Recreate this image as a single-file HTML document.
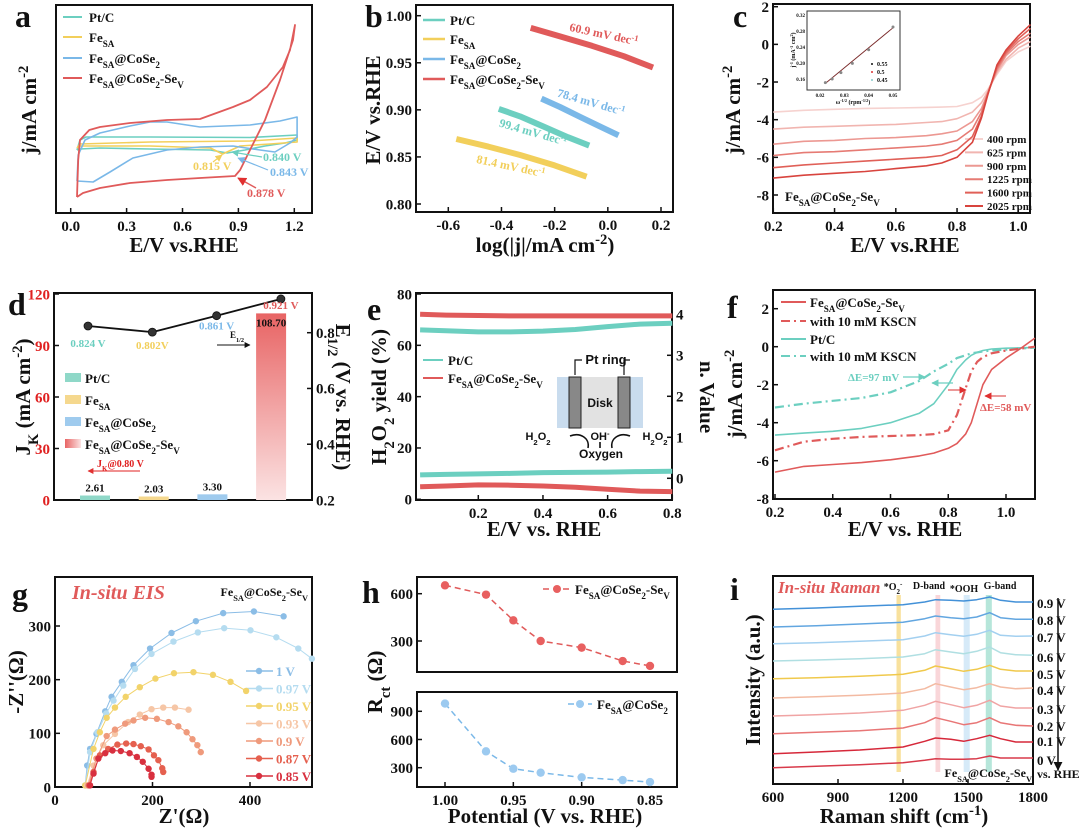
<!DOCTYPE html>
<html><head><meta charset="utf-8">
<style>
html,body{margin:0;padding:0;background:#fff;}
svg{display:block;}
text{font-family:"Liberation Serif",serif;font-weight:bold;}
.sb{font-size:70%;}
.sf{font-family:"Liberation Sans",sans-serif;}
</style></head>
<body>
<svg id="fig" xmlns="http://www.w3.org/2000/svg" width="1080" height="832" viewBox="0 0 1080 832">
<defs>
<marker id="ahk" viewBox="0 0 10 10" refX="9" refY="5" markerWidth="6" markerHeight="6" orient="auto"><path d="M0,0L10,5L0,10z" fill="#111"/></marker>
<marker id="ahr" viewBox="0 0 10 10" refX="9" refY="5" markerWidth="6" markerHeight="6" orient="auto"><path d="M0,0L10,5L0,10z" fill="#e03030"/></marker>
<marker id="aht" viewBox="0 0 10 10" refX="9" refY="5" markerWidth="6" markerHeight="6" orient="auto"><path d="M0,0L10,5L0,10z" fill="#6ccfc0"/></marker>
<marker id="ahb" viewBox="0 0 10 10" refX="9" refY="5" markerWidth="6" markerHeight="6" orient="auto"><path d="M0,0L10,5L0,10z" fill="#7ab8e8"/></marker>
<marker id="ahy" viewBox="0 0 10 10" refX="9" refY="5" markerWidth="6" markerHeight="6" orient="auto"><path d="M0,0L10,5L0,10z" fill="#f2cf5b"/></marker>
<linearGradient id="redgrad" x1="0" y1="0" x2="0" y2="1"><stop offset="0" stop-color="#e86464"/><stop offset="1" stop-color="#fbe3e3"/></linearGradient>
<linearGradient id="redgradh" x1="0" y1="0" x2="1" y2="0"><stop offset="0" stop-color="#e86464"/><stop offset="1" stop-color="#fbe3e3"/></linearGradient>
</defs>
</svg>
<script>
// ---------- panel a data ----------
const aRedV=[0.034,0.04,0.05,0.10,0.157,0.318,0.517,0.694,0.871,0.962,1.053,1.139,1.177,1.204,1.193,1.123,1.043,0.962,0.909,0.882,0.694,0.517,0.318,0.157,0.066,0.034];
const aRedJ=[-1.04,-0.3,0.1,0.3,0.36,0.44,0.5,0.52,0.76,0.9,1.16,1.56,1.9,2.4,2.1,1.3,0.5,-0.1,-0.5,-0.62,-0.66,-0.7,-0.76,-0.86,-0.96,-1.04];
const aBlueV=[0.034,0.120,0.211,0.334,0.517,0.694,0.871,1.016,1.096,1.177,1.215,1.215,1.123,0.962,0.694,0.517,0.426,0.318,0.157,0.077,0.040,0.034];
const aBlueJ=[-0.72,-0.74,-0.54,-0.26,-0.10,-0.04,-0.02,-0.10,-0.14,0.04,0.16,0.56,0.48,0.40,0.36,0.46,0.46,0.38,0.24,0.10,-0.20,-0.72];
const aTealV=[0.034,0.05,0.082,0.426,0.962,1.215,1.215,1.150,1.043,0.936,0.840,0.749,0.426,0.157,0.05,0.034];
const aTealJ=[-0.1,0.1,0.16,0.16,0.15,0.2,0.1,0.04,-0.02,-0.1,-0.16,-0.1,-0.08,-0.06,-0.08,-0.1];
const aYelV=[0.034,0.05,0.426,0.962,1.215,1.215,1.070,0.909,0.815,0.749,0.426,0.05,0.034];
const aYelJ=[-0.06,0.02,0.06,0.08,0.14,0.06,0.02,-0.02,-0.18,-0.06,-0.02,-0.02,-0.06];
const aXTicks=[0,0.3,0.6,0.9,1.2];
const aXLabels=["0.0","0.3","0.6","0.9","1.2"];
// ---------- panel b data ----------
const bRedX=[-0.29,-0.18,-0.06,0.06,0.17], bRedY=[0.987,0.978,0.968,0.957,0.945];
const bBlueX=[-0.25,-0.18,-0.1,-0.02,0.04], bBlueY=[0.912,0.903,0.892,0.881,0.873];
const bTealX=[-0.41,-0.33,-0.24,-0.15,-0.07], bTealY=[0.901,0.893,0.882,0.871,0.862];
const bYelX=[-0.57,-0.45,-0.33,-0.2,-0.08], bYelY=[0.869,0.861,0.852,0.841,0.829];
const bXTicks=[-0.6,-0.4,-0.2,0,0.2], bXLabels=["-0.6","-0.4","-0.2","0.0","0.2"];
const bYTicks=[0.8,0.85,0.9,0.95,1.0], bYLabels=["0.80","0.85","0.90","0.95","1.00"];
// ---------- panel c data ----------
const cE=[0.2,0.3,0.4,0.5,0.6,0.7,0.75,0.8,0.85,0.88,0.9,0.93,0.96,1.0,1.04];
const c400=[-3.6,-3.5,-3.45,-3.4,-3.38,-3.35,-3.33,-3.3,-3.1,-2.8,-2.4,-1.6,-0.9,-0.4,-0.1];
const c625=[-4.5,-4.4,-4.35,-4.3,-4.25,-4.15,-4.1,-3.95,-3.6,-3.1,-2.5,-1.5,-0.8,-0.2,0.15];
const c900=[-5.3,-5.15,-5.1,-5.0,-4.95,-4.85,-4.75,-4.6,-4.1,-3.4,-2.6,-1.4,-0.6,0.0,0.4];
const c1225=[-5.9,-5.75,-5.7,-5.6,-5.5,-5.4,-5.3,-5.1,-4.5,-3.6,-2.6,-1.3,-0.5,0.15,0.6];
const c1600=[-6.55,-6.4,-6.3,-6.2,-6.1,-6.0,-5.9,-5.6,-4.9,-3.8,-2.65,-1.2,-0.4,0.3,0.85];
const c2025=[-7.1,-6.95,-6.85,-6.75,-6.6,-6.45,-6.3,-6.0,-5.2,-3.9,-2.7,-1.1,-0.3,0.45,1.05];
const cRpm=["400 rpm","625 rpm","900 rpm","1225 rpm","1600 rpm","2025 rpm"];
const cXTicks=[0.2,0.4,0.6,0.8,1.0], cXLabels=["0.2","0.4","0.6","0.8","1.0"];
const cYTicks=[2,0,-2,-4,-6,-8], cYLabels=["2","0","-2","-4","-6","-8"];
const ciX=[0.0222,0.025,0.0286,0.0333,0.04,0.05];
const ciY=[0.151,0.160,0.176,0.199,0.233,0.290];
const ciXTicks=[0.02,0.03,0.04,0.05], ciXLabels=["0.02","0.03","0.04","0.05"];
const ciYTicks=[0.16,0.20,0.24,0.28,0.32], ciYLabels=["0.16","0.20","0.24","0.28","0.32"];
// ---------- panel d data ----------
const dCats=["Pt/C","FeSA","FeSA@CoSe2","FeSA@CoSe2-SeV"];
const dJk=[2.61,2.03,3.30,108.70];
const dJkLabels=["2.61","2.03","3.30","108.70"];
const dE12=[0.824,0.802,0.861,0.921];
const dE12Labels=["0.824 V","0.802V","0.861 V","0.921 V"];
const dLTicks=[0,30,60,90,120], dLLabels=["0","30","60","90","120"];
const dRTicks=[0.2,0.4,0.6,0.8], dRLabels=["0.2","0.4","0.6","0.8"];
// ---------- panel e data ----------
const eX=[0.02,0.1,0.2,0.3,0.4,0.5,0.6,0.7,0.8];
const eTealN=[3.62,3.60,3.57,3.57,3.59,3.63,3.70,3.76,3.78];
const eRedN=[4.0,3.98,3.97,3.96,3.96,3.96,3.96,3.96,3.96];
const eTealH=[9.5,9.7,9.9,10.1,10.4,10.5,10.6,10.8,10.9];
const eRedH=[4.9,5.2,5.6,5.5,5.2,4.7,3.9,3.2,3.0];
const eXTicks=[0.2,0.4,0.6,0.8], eXLabels=["0.2","0.4","0.6","0.8"];
const eLTicks=[0,20,40,60,80], eLLabels=["0","20","40","60","80"];
const eRTicks=[0,1,2,3,4], eRLabels=["0","1","2","3","4"];
// ---------- panel f data ----------
const fE=[0.2,0.3,0.4,0.5,0.6,0.7,0.75,0.8,0.83,0.86,0.88,0.9,0.92,0.95,1.0,1.05,1.1];
const fRed=[-6.6,-6.3,-6.2,-6.1,-5.95,-5.75,-5.6,-5.35,-5.1,-4.6,-4.0,-3.0,-2.0,-1.2,-0.6,-0.1,0.45];
const fRedK=[-5.45,-5.0,-4.85,-4.75,-4.7,-4.65,-4.6,-4.4,-3.6,-2.2,-1.3,-0.8,-0.55,-0.35,-0.2,-0.1,0.0];
const fTeal=[-4.65,-4.55,-4.45,-4.3,-4.0,-3.5,-3.0,-2.0,-1.2,-0.7,-0.45,-0.3,-0.2,-0.12,-0.08,-0.06,-0.05];
const fTealK=[-3.2,-3.0,-2.85,-2.7,-2.4,-1.8,-1.3,-0.9,-0.6,-0.45,-0.35,-0.3,-0.25,-0.2,-0.15,-0.1,-0.05];
const fXTicks=[0.2,0.4,0.6,0.8,1.0], fXLabels=["0.2","0.4","0.6","0.8","1.0"];
const fYTicks=[2,0,-2,-4,-6,-8], fYLabels=["2","0","-2","-4","-6","-8"];
// ---------- panel g data ----------
const g1X=[62,66,72,85,103,116,137,161,195,239,289,345,408,469];
const g1Y=[3,40,71,99,141,168,196,227,258,287,309,324,327,318];
const g097X=[62,72,87,105,120,140,164,198,243,293,347,401,454,499,527];
const g097Y=[3,65,102,137,161,189,220,248,271,288,296,292,279,258,239];
const g095X=[62,79,92,106,123,145,174,206,244,284,324,360,392];
const g095Y=[3,71,102,129,148,168,186,202,212,214,209,196,179];
const g093X=[66,79,99,123,150,174,198,222,246,274];
const g093Y=[3,40,78,99,121,135,145,148,148,144];
const g09X=[68,85,106,123,144,161,185,209,233,253,270,282,292,299];
const g09Y=[3,53,95,107,118,124,129,127,121,113,102,89,78,65];
const g087X=[70,79,92,109,128,146,161,176,192,203,212,220,222];
const g087Y=[3,28,59,71,79,81,80,76,70,59,50,35,28];
const g085X=[72,79,89,103,118,135,153,168,180,192,198,198];
const g085Y=[3,25,53,63,68,67,63,56,47,34,23,19];
const gNames=["1 V","0.97 V","0.95 V","0.93 V","0.9 V","0.87 V","0.85 V"];
const gXTicks=[0,200,400], gXLabels=["0","200","400"];
const gYTicks=[0,100,200,300], gYLabels=["0","100","200","300"];
// ---------- panel h data ----------
const hPot=[1.00,0.97,0.95,0.93,0.90,0.87,0.85];
const hRed=[653,594,431,300,258,173,142];
const hBlue=[982,474,289,247,197,168,147];
const hXTicks=[1.00,0.95,0.90,0.85], hXLabels=["1.00","0.95","0.90","0.85"];
const hTopTicks=[300,600], hTopLabels=["300","600"];
const hBotTicks=[300,600,900], hBotLabels=["300","600","900"];
// ---------- panel i data ----------
const iShift=[600,800,1000,1200,1300,1350,1420,1480,1540,1600,1650,1720,1800];
const i09=[528,532,537,542,550,557,555,553,557,565,555,550,550];
const i08=[475,479,484,489,500,508,503,500,505,518,503,498,498];
const i07=[425,428,432,437,448,458,452,447,453,465,450,447,448];
const i06=[373,376,380,385,395,407,400,395,402,415,398,392,390];
const i05=[320,323,327,333,345,358,350,342,348,360,348,343,343];
const i04=[262,266,270,277,290,305,295,287,293,305,295,290,292];
const i03=[208,212,217,225,240,252,242,233,240,255,238,232,232];
const i02=[155,159,164,172,188,203,192,182,188,203,188,180,178];
const i01=[95,100,106,115,132,142,138,132,140,150,140,130,130];
const i00=[53,57,62,68,75,80,78,78,80,88,82,82,82];
const iVolts=["0.9 V","0.8 V","0.7 V","0.6 V","0.5 V","0.4 V","0.3 V","0.2 V","0.1 V","0 V"];
const iXTicks=[600,900,1200,1500,1800], iXLabels=["600","900","1200","1500","1800"];

// ================= helpers =================
const NS="http://www.w3.org/2000/svg";
const svg=document.getElementById('fig');
function mk(tag,attrs,parent){const e=document.createElementNS(NS,tag);for(const k in attrs)e.setAttribute(k,attrs[k]);(parent||svg).appendChild(e);return e;}
function lin(d0,d1,r0,r1){return v=>r0+(v-d0)/(d1-d0)*(r1-r0);}
function txt(x,y,html,size,opts){opts=opts||{};const t=mk('text',{x:x,y:y,'font-size':size,'text-anchor':opts.anchor||'start',fill:opts.fill||'#111'});if(opts.rot!==undefined)t.setAttribute('transform','rotate('+opts.rot+' '+x+' '+y+')');if(opts.italic)t.setAttribute('font-style','italic');if(opts.cls)t.setAttribute('class',opts.cls);t.innerHTML=html;return t;}
function pathD(xs,ys,sx,sy){return xs.map((v,i)=>(i?'L':'M')+sx(v).toFixed(1)+','+sy(ys[i]).toFixed(1)).join('');}
function line(xs,ys,sx,sy,color,w,dash){const p=mk('path',{d:pathD(xs,ys,sx,sy),fill:'none',stroke:color,'stroke-width':w,'stroke-linejoin':'round'});if(dash)p.setAttribute('stroke-dasharray',dash);return p;}
function frame(x0,y0,x1,y1){const r=mk('rect',{x:x0,y:y0,width:x1-x0,height:y1-y0,fill:'none',stroke:'#111','stroke-width':2});return r;}
function xTicks(sc,vals,labs,y,size,len){vals.forEach((v,i)=>{const t=mk('line',{x1:sc(v),x2:sc(v),y1:y,y2:y-(len||5),stroke:'#111','stroke-width':1.5});const l=txt(sc(v),y+size+3,labs[i],size,{anchor:'middle'});});}
function yTicks(sc,vals,labs,x,size,right,fill,len){vals.forEach((v,i)=>{const d=right?-(len||5):(len||5);const t=mk('line',{x1:x,x2:x+d,y1:sc(v),y2:sc(v),stroke:'#111','stroke-width':1.5});const l=txt(right?x+4:x-4,sc(v)+size*0.35,labs[i],size,{anchor:right?'start':'end',fill:fill});});}
function dots(xs,ys,sx,sy,color,r,stroke){xs.forEach((v,i)=>{const c=mk('circle',{cx:sx(v),cy:sy(ys[i]),r:r,fill:color,stroke:stroke||'none','stroke-width':0.8});});}
const FE='Fe<tspan class="sb" baseline-shift="sub">SA</tspan>';
const FECO=FE+'@CoSe<tspan class="sb" baseline-shift="sub">2</tspan>';
const FECOV=FECO+'-Se<tspan class="sb" baseline-shift="sub">V</tspan>';
const TEAL='#6ccfc0',YEL='#f2cf5b',BLUE='#7ab8e8',RED='#e05a5a';
let t;

// ================= panel a =================
{const ax=lin(0,1.2,70.7,294.3), ay=j=>145-j*50;
frame(56,5,312,213);
xTicks(ax,aXTicks,aXLabels,213,15);
const s1=line(aTealV,aTealJ,ax,ay,TEAL,1.6);
const s2=line(aYelV,aYelJ,ax,ay,YEL,1.6);
const s3=line(aBlueV,aBlueJ,ax,ay,BLUE,1.6);
const s4=line(aRedV,aRedJ,ax,ay,RED,1.8);
const labs=["Pt/C",FE,FECO,FECOV], cols=[TEAL,YEL,BLUE,RED], ys=[17,37,58,78];
labs.forEach((l,i)=>{const ln=mk('line',{x1:63,x2:82,y1:ys[i],y2:ys[i],stroke:cols[i],'stroke-width':2});t=txt(89,ys[i]+5,l,13);});
t=txt(263,161,'0.840 V',12,{fill:TEAL});
t=txt(193,170,'0.815 V',12,{fill:YEL});
t=txt(270,176,'0.843 V',12,{fill:BLUE});
t=txt(247,197,'0.878 V',12,{fill:RED});
let a1=mk('line',{x1:262,y1:157,x2:232,y2:152,stroke:TEAL,'stroke-width':1.2,'marker-end':'url(#aht)'});
a1=mk('line',{x1:213,y1:162,x2:222,y2:155,stroke:YEL,'stroke-width':1.2,'marker-end':'url(#ahy)'});
a1=mk('line',{x1:268,y1:170,x2:238,y2:158,stroke:BLUE,'stroke-width':1.2,'marker-end':'url(#ahb)'});
a1=mk('line',{x1:256,y1:188,x2:238,y2:178,stroke:RED,'stroke-width':1.5,'marker-end':'url(#ahr)'});
t=txt(184,252,'E/V vs.RHE',21,{anchor:'middle'});
t=txt(36,110,'j/mA cm<tspan font-size="70%" baseline-shift="super">-2</tspan>',21,{anchor:'middle',rot:-90});
t=txt(15,27,'a',32);}

// ================= panel b =================
{const bx=lin(-0.6,0.2,448.3,661), by=lin(0.8,1.0,204,15.7);
frame(416,5,673,212);
xTicks(bx,bXTicks,bXLabels,212,15);
yTicks(by,bYTicks,bYLabels,416,15);
const sets=[[bRedX,bRedY,RED,'tafel-fesa-cose2-sev'],[bBlueX,bBlueY,BLUE,'tafel-fesa-cose2'],[bTealX,bTealY,TEAL,'tafel-ptc'],[bYelX,bYelY,YEL,'tafel-fesa']];
sets.forEach(s=>{const p=line(s[0],s[1],bx,by,s[2],6);});
const labs=["Pt/C",FE,FECO,FECOV], cols=[TEAL,YEL,BLUE,RED], ys=[20,39,59,79];
labs.forEach((l,i)=>{const ln=mk('line',{x1:423,x2:445,y1:ys[i],y2:ys[i],stroke:cols[i],'stroke-width':2.5});t=txt(450,ys[i]+5,l,13);});
const sup=' dec<tspan font-size="70%" baseline-shift="super">-1</tspan>';
t=txt(603,38,'60.9 mV'+sup,12,{anchor:'middle',fill:RED,rot:12});
t=txt(590,106,'78.4 mV'+sup,12,{anchor:'middle',fill:BLUE,rot:16});
t=txt(532,136,'99.4 mV'+sup,12,{anchor:'middle',fill:TEAL,rot:16});
t=txt(510,170,'81.4 mV'+sup,12,{anchor:'middle',fill:YEL,rot:12});
t=txt(545,252,'log(|j|/mA cm<tspan font-size="70%" baseline-shift="super">-2</tspan>)',21,{anchor:'middle'});
t=txt(380,110,'E/V vs.RHE',21,{anchor:'middle',rot:-90});
t=txt(365,27,'b',32);}

// ================= panel c =================
{const cx=lin(0.2,1.0,773.3,1018.3), cy=lin(2,-8,6.7,195);
frame(773,4,1030,213);
xTicks(cx,cXTicks,cXLabels,213,15);
yTicks(cy,cYTicks,cYLabels,773,15);
const sets=[c400,c625,c900,c1225,c1600,c2025], cols=['#f6d2cf','#f1b5b0','#ec9892','#e67b74','#e06058','#d8443e'];
sets.forEach((s,i)=>{const p=line(cE,s,cx,cy,cols[i],1.6);
const ln=mk('line',{x1:965,x2:983,y1:139+i*13.4,y2:139+i*13.4,stroke:cols[i],'stroke-width':2});
t=txt(987,143+i*13.4,cRpm[i],11);});
t=txt(785,201,FECOV,13);
const ix=lin(0.02,0.05,820,893), iy=lin(0.16,0.32,79,15);
const r=mk('rect',{x:807,y:11,width:93,height:79,fill:'#fff',stroke:'#333','stroke-width':1});
ciXTicks.forEach((v,i)=>{t=txt(ix(v),97,ciXLabels[i],5,{anchor:'middle'});});
ciYTicks.forEach((v,i)=>{t=txt(805,iy(v)+2,ciYLabels[i],5,{anchor:'end'});});
const fit=line([0.0222,0.05],[0.149,0.288],ix,iy,'#7a2a2a',0.9);
dots(ciX,ciY,ix,iy,'#888',1.5);
['0.55','0.5','0.45'].forEach((l,i)=>{const c=mk('circle',{cx:872,cy:64+i*8,r:1,fill:['#111','#d33','#8cc'][i]});t=txt(877,66+i*8,l,6);});
t=txt(853,104,'ω<tspan font-size="70%" baseline-shift="super">-1/2</tspan> (rpm<tspan font-size="70%" baseline-shift="super">-1/2</tspan>)',6,{anchor:'middle'});
t=txt(795,50,'j<tspan font-size="70%" baseline-shift="super">-1</tspan> (mA<tspan font-size="70%" baseline-shift="super">-1</tspan> cm<tspan font-size="70%" baseline-shift="super">2</tspan>)',6,{anchor:'middle',rot:-90});
t=txt(905,252,'E/V vs.RHE',21,{anchor:'middle'});
t=txt(740,110,'j/mA cm<tspan font-size="70%" baseline-shift="super">-2</tspan>',21,{anchor:'middle',rot:-90});
t=txt(733,27,'c',32);}

// ================= panel d =================
{const barX=i=>95+58.7*i, ptX=i=>88+64.3*i, dy=lin(0,120,500,294), ry=lin(0.2,0.8,500,332.7);
frame(54,293,312,500);
yTicks(dy,dLTicks,dLLabels,54,15,false,'#e02020');
yTicks(ry,dRTicks,dRLabels,312,15,true);
const cols=['#8fd8c8','#f5d88e','#9fcbee','url(#redgrad)'];
dJk.forEach((v,i)=>{const b=mk('rect',{x:barX(i)-15,y:dy(v),width:30,height:dy(0)-dy(v),fill:cols[i]});
t=txt(barX(i),i===3?dy(v)+13:dy(v)-4,dJkLabels[i],11,{anchor:'middle'});});
const e12=line([0,1,2,3],dE12,ptX,ry,'#111',1.8);
dots([0,1,2,3],dE12,ptX,ry,'#333',4,'#111');
const lc=[TEAL,YEL,BLUE,RED], lo=[16,12,16,12];
dE12.forEach((v,i)=>{t=txt(ptX(i),ry(v)+lo[i]+(i<2?5:-2),dE12Labels[i],11,{anchor:'middle',fill:lc[i]});});
const labs=["Pt/C",FE,FECO,FECOV], sw=['#8fd8c8','#f5d88e','#9fcbee','url(#redgradh)'], ys=[378,400,422,444];
labs.forEach((l,i)=>{const r=mk('rect',{x:65,y:ys[i]-5,width:16,height:9,fill:sw[i]});t=txt(85,ys[i]+5,l,13);});
t=txt(97,467,'J<tspan class="sb" baseline-shift="sub">K</tspan>@0.80 V',10,{fill:'#e02020'});
let a=mk('line',{x1:140,y1:471,x2:88,y2:471,stroke:'#e02020','stroke-width':1,'marker-end':'url(#ahr)'});
t=txt(230,338,'E<tspan class="sb" baseline-shift="sub">1/2</tspan>',9);
a=mk('line',{x1:217,y1:345,x2:250,y2:345,stroke:'#111','stroke-width':1,'marker-end':'url(#ahk)'});
t=txt(30,397,'J<tspan class="sb" baseline-shift="sub">K</tspan> (mA cm<tspan font-size="70%" baseline-shift="super">-2</tspan>)',21,{anchor:'middle',rot:-90});
t=txt(336,397,'E<tspan class="sb" baseline-shift="sub">1/2</tspan> (V vs. RHE)',21,{anchor:'middle',rot:90});
t=txt(8,315,'d',32);}

// ================= panel e =================
{const ex=lin(0.2,0.8,478.3,672.3), ey=lin(0,80,499.3,294), ny=lin(0,4,478.3,314.3);
frame(416,293,672,500);
xTicks(ex,eXTicks,eXLabels,500,15);
yTicks(ey,eLTicks,eLLabels,416,15);
yTicks(ny,eRTicks,eRLabels,672,15,true);
let p=line(eX,eTealN,ex,ny,TEAL,5);
p=line(eX,eRedN,ex,ny,RED,5);
p=line(eX,eTealH,ex,ey,TEAL,5);
p=line(eX,eRedH,ex,ey,RED,5);
[[TEAL,"Pt/C",360],[RED,FECOV,378]].forEach(s=>{const ln=mk('line',{x1:423,x2:443,y1:s[2],y2:s[2],stroke:s[0],'stroke-width':2});t=txt(448,s[2]+5,s[1],13);});
let r=mk('rect',{x:557,y:377,width:86,height:51,fill:'#c9dcee'});
r=mk('rect',{x:581,y:377,width:37,height:51,fill:'#e2e2e2'});
r=mk('rect',{x:569,y:377,width:12,height:51,fill:'#888',stroke:'#222','stroke-width':1});
r=mk('rect',{x:618,y:377,width:12,height:51,fill:'#888',stroke:'#222','stroke-width':1});
t=txt(600,407,'Disk',12,{anchor:'middle',cls:'sf'});
t=txt(606,364,'Pt ring',13,{anchor:'middle',cls:'sf'});
let b=mk('path',{d:'M575,375V360H582M630,360H624V375',fill:'none',stroke:'#111','stroke-width':1.2});
t=txt(538,440,'H<tspan class="sb" baseline-shift="sub">2</tspan>O<tspan class="sb" baseline-shift="sub">2</tspan>',11,{anchor:'middle',cls:'sf'});
t=txt(655,440,'H<tspan class="sb" baseline-shift="sub">2</tspan>O<tspan class="sb" baseline-shift="sub">2</tspan>',11,{anchor:'middle',cls:'sf'});
t=txt(600,440,'OH<tspan font-size="70%" baseline-shift="super">-</tspan>',11,{anchor:'middle',cls:'sf'});
t=txt(601,458,'Oxygen',12,{anchor:'middle',cls:'sf'});
b=mk('path',{d:'M588,448C590,438 580,432 570,436M612,448C610,438 620,432 630,436M600,448V442',fill:'none',stroke:'#111','stroke-width':1.6});
t=txt(386,397,'H<tspan class="sb" baseline-shift="sub">2</tspan>O<tspan class="sb" baseline-shift="sub">2</tspan> yield (%)',21,{anchor:'middle',rot:-90});
t=txt(700,397,'n. Value',21,{anchor:'middle',rot:90});
t=txt(544,536,'E/V vs. RHE',21,{anchor:'middle'});
t=txt(367,320,'e',32);}

// ================= panel f =================
{const fx=lin(0.2,1.0,775,1006), fy=j=>346.7-j*19;
frame(773,290,1035,499);
xTicks(fx,fXTicks,fXLabels,499,15);
yTicks(fy,fYTicks,fYLabels,773,15);
let p=line(fE,fTealK,fx,fy,TEAL,2.2,'9,4,2,4');
p=line(fE,fTeal,fx,fy,TEAL,1.6);
p=line(fE,fRedK,fx,fy,RED,2.2,'9,4,2,4');
p=line(fE,fRed,fx,fy,RED,1.6);
const lg=[[RED,FECOV,302,''],[RED,'with 10 mM KSCN',321,'9,4,2,4'],[TEAL,'Pt/C',339,''],[TEAL,'with 10 mM KSCN',356,'9,4,2,4']];
lg.forEach(s=>{const ln=mk('line',{x1:781,x2:806,y1:s[2],y2:s[2],stroke:s[0],'stroke-width':2});if(s[3])ln.setAttribute('stroke-dasharray',s[3]);t=txt(810,s[2]+5,s[1],13);});
t=txt(848,381,'ΔE=97 mV',11,{fill:TEAL});
t=txt(980,411,'ΔE=58 mV',11,{fill:RED});
let a=mk('line',{x1:903,y1:377,x2:925,y2:377,stroke:TEAL,'stroke-width':1.2,'marker-end':'url(#aht)'});
a=mk('line',{x1:953,y1:383,x2:932,y2:383,stroke:TEAL,'stroke-width':1.2,'marker-end':'url(#aht)'});
a=mk('line',{x1:948,y1:390,x2:966,y2:390,stroke:RED,'stroke-width':1.2,'marker-end':'url(#ahr)'});
a=mk('line',{x1:1006,y1:396,x2:985,y2:396,stroke:RED,'stroke-width':1.2,'marker-end':'url(#ahr)'});
t=txt(905,536,'E/V vs. RHE',21,{anchor:'middle'});
t=txt(742,394,'j/mA cm<tspan font-size="70%" baseline-shift="super">-2</tspan>',21,{anchor:'middle',rot:-90});
t=txt(727,318,'f',32);}

// ================= panel g =================
{const gx=lin(0,400,55,250), gy=lin(0,300,787,626);
frame(55,577,312,787);
xTicks(gx,gXTicks,gXLabels,787,15);
yTicks(gy,gYTicks,gYLabels,55,15);
const sets=[[g1X,g1Y],[g097X,g097Y],[g095X,g095Y],[g093X,g093Y],[g09X,g09Y],[g087X,g087Y],[g085X,g085Y]];
const cols=['#8bbde6','#b5dcf0','#f2d36a','#f6c6a6','#ef9a7c','#e5604f','#d8303f'];
sets.forEach((s,i)=>{const p=line(s[0],s[1],gx,gy,cols[i],1);dots(s[0],s[1],gx,gy,cols[i],3.2);
const y=671+i*17.5;const ln=mk('line',{x1:246,x2:273,y1:y,y2:y,stroke:cols[i],'stroke-width':1.5});
const c=mk('circle',{cx:259,cy:y,r:3.2,fill:cols[i]});
t=txt(276,y+5,gNames[i],13,{fill:cols[i]});});
t=txt(72,599,'In-situ EIS',20,{fill:'#e05a5a',italic:true});
t=txt(308,596,FECOV,12,{anchor:'end'});
t=txt(184,823,"Z'(Ω)",21,{anchor:'middle'});
t=txt(23,682,"-Z''(Ω)",21,{anchor:'middle',rot:-90});
t=txt(12,605,'g',32);}

// ================= panel h =================
{const hx=lin(1.0,0.85,445,650), ty=lin(300,600,641,593.7), by=lin(300,900,767.7,711.3);
frame(417,577,677,672);frame(417,692,677,787);
xTicks(hx,hXTicks,hXLabels,787,15);
yTicks(ty,hTopTicks,hTopLabels,417,15);
yTicks(by,hBotTicks,hBotLabels,417,15);
let p=line(hPot,hRed,hx,ty,RED,1.5,'6,4');
dots(hPot,hRed,hx,ty,'#e86060',4.2);
p=line(hPot,hBlue,hx,by,BLUE,1.5,'6,4');
dots(hPot,hBlue,hx,by,'#9ccaf0',4.2);
let ln=mk('line',{x1:543,x2:572,y1:589,y2:589,stroke:RED,'stroke-width':1.5,'stroke-dasharray':'6,4'});
let c=mk('circle',{cx:557,cy:589,r:4,fill:'#e86060'});
t=txt(575,594,FECOV,13);
ln=mk('line',{x1:568,x2:592,y1:704,y2:704,stroke:BLUE,'stroke-width':1.5,'stroke-dasharray':'6,4'});
c=mk('circle',{cx:580,cy:704,r:4,fill:'#9ccaf0'});
t=txt(597,709,FECO,13);
t=txt(545,823,'Potential (V vs. RHE)',21,{anchor:'middle'});
t=txt(382,682,'R<tspan class="sb" baseline-shift="sub">ct</tspan> (Ω)',21,{anchor:'middle',rot:-90});
t=txt(362,603,'h',32);}

// ================= panel i =================
{const ix=lin(600,1800,773,1033), iy=v=>552+(700-v)/3;
frame(773,576,1033,784);
xTicks(ix,iXTicks,iXLabels,784,15);
const bands=[[1170,1190,'#f7dc8c'],[1350,1372,'#f8cfd2'],[1480,1508,'#cfe6f7'],[1582,1610,'#a9e2d4']];
bands.forEach(b=>{const r=mk('rect',{x:ix(b[0]),y:595,width:ix(b[1])-ix(b[0]),height:177,fill:b[2],opacity:0.85});});
const sets=[i09,i08,i07,i06,i05,i04,i03,i02,i01,i00];
const cols=['#4391d8','#62a6e0','#a3d0f0','#b0dfe2','#f0c94c','#f3baa2','#f0a4a4','#e87676','#d6283a','#d83a4a'];
const ly=[603,620,637,657,674,690,709,726,741,760];
sets.forEach((s,i)=>{const p=line(iShift,s,ix,iy,cols[i],1.5);
t=txt(1037,ly[i]+5,iVolts[i],13);});
t=txt(1037,778,'vs. RHE',12);
let a=mk('line',{x1:1058,y1:598,x2:1058,y2:770,stroke:'#111','stroke-width':1.5,'marker-end':'url(#ahk)'});
t=txt(778,593,'In-situ Raman',17,{fill:'#e05a5a',italic:true});
t=txt(893,590,'*O<tspan class="sb" baseline-shift="sub">2</tspan><tspan font-size="70%" baseline-shift="super">-</tspan>',10,{anchor:'middle'});
t=txt(929,589,'D-band',10,{anchor:'middle'});
t=txt(964,592,'*OOH',10,{anchor:'middle'});
t=txt(1000,589,'G-band',10,{anchor:'middle'});
t=txt(1032,777,FECOV,12,{anchor:'end'});
t=txt(904,823,'Raman shift (cm<tspan font-size="70%" baseline-shift="super">-1</tspan>)',21,{anchor:'middle'});
t=txt(760,680,'Intensity (a.u.)',21,{anchor:'middle',rot:-90});
t=txt(730,600,'i',32);}
</script>
</body></html>
